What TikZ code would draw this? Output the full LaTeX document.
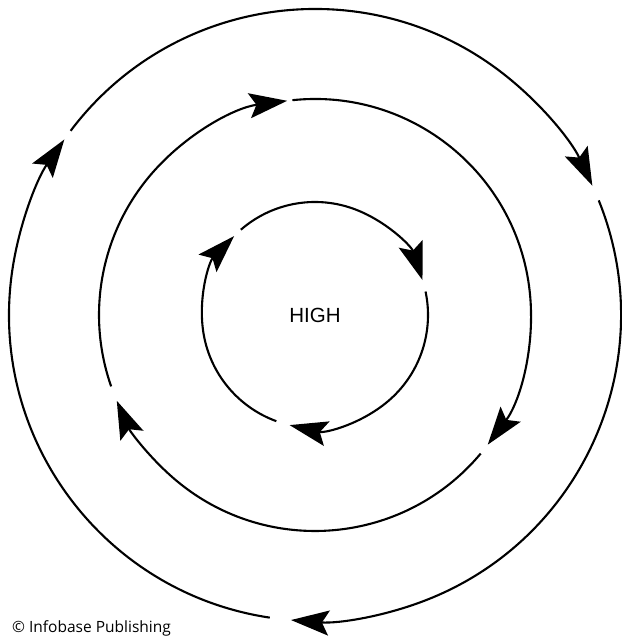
\documentclass[tikz,border=0pt]{standalone}
\usepackage{fontspec}
\setmainfont{Liberation Sans}
\newfontfamily\creditfont{Open Sans}
\usetikzlibrary{arrows.meta}

\begin{document}
\begin{tikzpicture}[x=1pt,y=1pt,>={Stealth[length=38pt,width=25pt,inset=7pt]},
  flow/.style={line width=2.1pt,->}]
  \useasboundingbox (0,0) rectangle (621,636);
  \coordinate (c) at (315,321);

  % outer ring
  \draw[flow] ([shift={(143:306)}]c) arc[start angle=143,end angle=25,radius=306];
  \draw[flow] ([shift={(22:306)}]c) arc[start angle=22,end angle=-94.5,radius=306];
  \draw[flow] ([shift={(-98.5:306)}]c) arc[start angle=-98.5,end angle=-215,radius=306];

  % middle ring
  \draw[flow] ([shift={(96:216)}]c) arc[start angle=96,end angle=-36.9,radius=216];
  \draw[flow] ([shift={(-39.9:216)}]c) arc[start angle=-39.9,end angle=-156.6,radius=216];
  \draw[flow] ([shift={(-160.7:216)}]c) arc[start angle=-160.7,end angle=-262.6,radius=216];

  % inner ring
  \draw[flow] ([shift={(131:113)}]c) arc[start angle=131,end angle=18,radius=113];
  \draw[flow] ([shift={(12:113)}]c) arc[start angle=12,end angle=-103,radius=113];
  \draw[flow] ([shift={(-110:113)}]c) arc[start angle=-110,end angle=-224.3,radius=113];

  % labels
  \node (high) at (c) {\fontsize{20.5}{24}\selectfont HIGH};
  \node[anchor=base west,inner sep=0pt] (credit) at (12,4)
    {\creditfont\fontsize{15.5}{18}\selectfont \textcopyright{} Infobase Publishing};
\end{tikzpicture}
\end{document}
